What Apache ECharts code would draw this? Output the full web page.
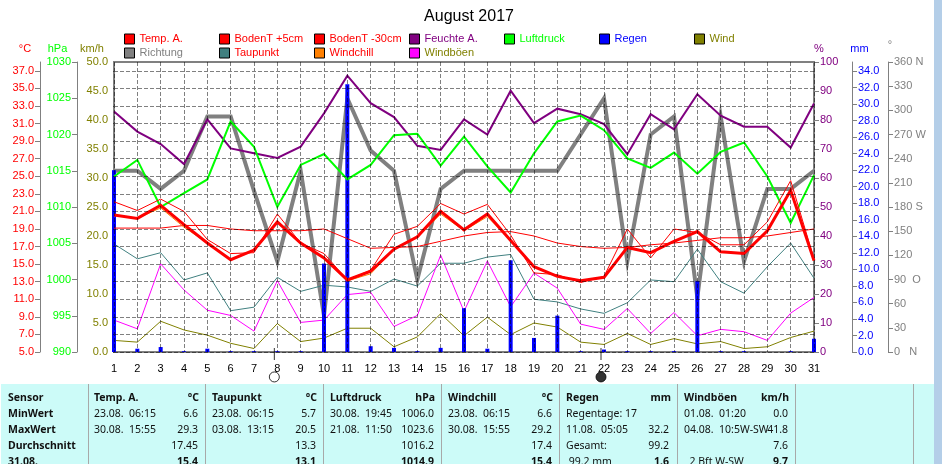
<!DOCTYPE html>
<html>
<head>
<meta charset="utf-8">
<title>August 2017</title>
<script src="https://cdn.jsdelivr.net/npm/echarts@6/dist/echarts.min.js"></script>
<style>
html, body { margin: 0; padding: 0; background: #fff; overflow: hidden; }
#gridChart, #chart { position: absolute; left: 0; top: 0; width: 942px; height: 464px; }
#chart { mix-blend-mode: multiply; }
</style>
</head>
<body>
<div id="gridChart"></div>
<div id="chart"></div>
<script>
var days = [];
for (var i = 1; i <= 31; i++) days.push(String(i));

// values, one per day
var tempA    = [20.6,20.2,21.7,19.5,17.4,15.5,16.6,19.8,17.4,15.7,13.2,14.2,16.7,18.1,21.0,18.9,20.7,17.7,14.7,13.6,13.1,13.5,16.9,16.3,17.6,18.7,16.4,16.2,18.8,23.4,15.4];
var boden5   = [22.1,21.1,22.4,21.0,17.8,16.2,16.3,20.7,17.4,16.2,13.2,14.3,18.4,19.3,21.9,20.7,21.8,18.3,14.0,13.8,12.9,13.6,19.0,15.7,19.0,18.6,17.2,17.2,19.8,24.5,15.6];
var boden30  = [19.1,19.1,19.1,19.4,19.4,19.0,18.8,18.8,18.8,19.0,17.9,16.8,16.9,17.0,17.6,18.2,18.6,18.7,18.2,17.4,17.0,16.8,16.9,17.2,17.4,17.7,18.0,18.0,18.2,18.6,19.0];
var windchill= [20.6,20.2,21.4,19.2,17.4,15.5,16.6,19.8,17.4,15.7,13.1,13.9,16.7,18.1,20.7,18.8,20.4,17.7,14.7,13.6,13.1,13.5,16.9,16.3,17.6,18.7,16.4,16.2,18.8,23.4,15.4];
var taupunkt = [17.3,15.6,16.3,13.2,14.0,9.7,10.1,13.5,11.9,12.6,12.4,11.9,13.3,12.5,15.1,15.1,15.8,16.1,11.0,10.7,9.9,9.4,10.6,13.2,13.0,16.7,13.0,11.7,14.7,17.4,13.4];
var feuchte  = [82.9,76.0,71.7,64.8,80.2,70.2,68.5,66.9,70.8,82.3,95.3,85.8,81.0,71.1,69.7,80.2,75.0,90.1,78.9,83.9,82.0,78.6,68.2,82.0,76.8,88.9,81.5,77.7,77.7,70.5,85.7];
var luftdruck= [1014.2,1016.5,1010.0,1011.9,1013.8,1021.8,1018.3,1010.0,1015.8,1017.3,1013.8,1015.8,1019.9,1020.1,1015.7,1019.7,1015.6,1012.0,1017.4,1021.8,1022.6,1020.6,1016.7,1015.4,1017.5,1014.6,1017.6,1018.9,1014.2,1007.8,1014.4];
var regen    = [22.0,0.4,0.6,0.1,0.4,0.1,0.1,0.1,0.1,10.7,32.4,0.7,0.5,0.1,0.5,5.3,0.4,11.1,1.7,4.4,0.1,0.3,0.1,0.1,0.1,8.6,0.1,0.1,0.0,0.1,1.6];
var wind     = [2.0,1.7,5.3,3.8,2.9,1.5,0.6,4.9,1.8,2.4,4.1,4.1,0.9,2.6,6.6,2.8,6.0,3.0,5.0,4.3,1.7,1.3,3.2,1.3,2.3,1.4,1.8,0.6,0.9,2.5,3.6];
var richtung = [225,225,202.5,225,292.5,292.5,200,112.5,225,45,315,250,225,90,202.5,225,225,225,225,225,270,315,112.5,270,292.5,67.5,292.5,112.5,202.5,202.5,225];
var windboen = [5.5,4.0,15.2,10.7,7.2,6.3,3.6,12.3,5.1,5.5,9.9,10.3,4.4,6.3,16.7,7.0,15.7,7.8,13.6,11.0,4.8,3.9,7.5,3.2,6.8,2.8,3.9,3.5,2.0,6.7,9.4];

var tempTicks = [5,7,9,11,13,15,17,19,21,23,25,27,29,31,33,35,37];
var regenTicks = [0,2,4,6,8,10,12,14,16,18,20,22,24,26,28,30,32,34];
var dirLabels = {0:'0   N',30:'30',60:'60',90:'90  O',120:'120',150:'150',180:'180 S',210:'210',240:'240',270:'270 W',300:'300',330:'330',360:'360 N'};
var moonDays = ['8','22'];

var RED = '#ff0000', GRAY = '#808080', OLIVE = '#808000', PURPLE = '#800080', LIME = '#00ff00', BLUE = '#0000ff', TEAL = '#408080', ORANGE = '#ff8000', MAGENTA = '#ff00ff';
var FONT = '"Liberation Sans", Arial, sans-serif';
var DASH = { color: GRAY, width: 1, type: 'dashed' };
var GRID = { left: 114, right: 128, top: 62, height: 290 };

// table below the chart
var sensorRows = ['Sensor','MinWert','MaxWert','Durchschnitt','31.08.'];
var statHeads  = ['Temp. A.','Taupunkt','Luftdruck','Windchill','Regen','Windböen'];
var statUnits  = ['°C','°C','hPa','°C','mm','km/h'];
var statNotes  = [
    ['23.08.  06:15','30.08.  15:55','',''],
    ['23.08.  06:15','03.08.  13:15','',''],
    ['30.08.  19:45','21.08.  11:50','',''],
    ['23.08.  06:15','30.08.  15:55','',''],
    ['Regentage: 17','11.08.  05:05','Gesamt:',' 99.2 mm'],
    ['01.08.  01:20','04.08.  10:5W-SW','','  2 Bft W-SW']
];
var statValues = [
    ['6.6','29.3','17.45','15.4'],
    ['5.7','20.5','13.3','13.1'],
    ['1006.0','1023.6','1016.2','1014.9'],
    ['6.6','29.2','17.4','15.4'],
    ['','32.2','99.2','1.6'],
    ['0.0','41.8','7.6','9.7']
];

function line(name, data, yIndex, color, width, z) {
    return {
        name: name, type: 'line', data: data, yAxisIndex: yIndex, z: z,
        symbol: 'none', animation: false, silent: true,
        itemStyle: { color: color },
        lineStyle: { color: color, width: width, join: 'miter' }
    };
}

function yAxis(opt) {
    return {
        type: 'value', name: opt.name, position: opt.pos, offset: opt.offset,
        min: opt.min, max: opt.max, interval: opt.interval,
        nameLocation: 'end', nameGap: 8,
        nameTextStyle: { color: opt.color, fontSize: 11, fontFamily: FONT, padding: opt.namePad, align: 'center' },
        axisLine: { show: true, onZero: false, lineStyle: { color: GRAY, width: 1 } },
        axisTick: { show: opt.tick !== false, length: 5, lineStyle: { color: GRAY }, customValues: opt.ticks },
        axisLabel: { color: opt.color, fontSize: 11, fontFamily: FONT, margin: opt.margin || 6, formatter: opt.fmt, customValues: opt.ticks, showMinLabel: true, showMaxLabel: true },
        splitLine: { show: false }
    };
}

function fixed1(v) { return v.toFixed(1); }

var legendItems = {
    'Temp. A.': [RED, RED], 'Richtung': [GRAY, GRAY],
    'BodenT +5cm': [RED, RED], 'Taupunkt': [TEAL, RED],
    'BodenT -30cm': [RED, RED], 'Windchill': [ORANGE, RED],
    'Feuchte A.': [PURPLE, PURPLE], 'Windböen': [MAGENTA, OLIVE],
    'Luftdruck': [LIME, LIME], 'Regen': [BLUE, BLUE], 'Wind': [OLIVE, OLIVE]
};
var legendColumns = [['Temp. A.','Richtung'],['BodenT +5cm','Taupunkt'],['BodenT -30cm','Windchill'],['Feuchte A.','Windböen'],['Luftdruck'],['Regen'],['Wind']];
var legends = legendColumns.map(function (names, k) {
    return {
        orient: 'vertical', left: 124 + k * 95, top: 32, padding: 0, itemGap: 0,
        itemWidth: 10, itemHeight: 10, selectedMode: false, silent: true,
        textStyle: { fontSize: 11, fontFamily: FONT, padding: [0, 0, 0, 0], height: 14, lineHeight: 14 },
        data: names.map(function (n) {
            return {
                name: n, icon: 'rect',
                itemStyle: { color: legendItems[n][0], borderColor: '#000', borderWidth: 1 },
                textStyle: { color: legendItems[n][1] }
            };
        })
    };
});

// table and window edge, as graphic elements
var tableY = 384, rowY = [398, 414, 430, 446, 462];
var dividers = [88, 205, 323, 441, 559, 677, 795, 913];
var noteX = [94, 212, 330, 448, 566, 684], valueX = [198, 316, 434, 552, 669, 788], unitX = [199, 317, 435, 553, 671, 789];
var graphics = [
    { type: 'rect', shape: { x: 934, y: 0, width: 8, height: 464 }, style: { fill: '#b4cee8' }, silent: true },
    { type: 'rect', shape: { x: 1, y: tableY, width: 933, height: 80 }, style: { fill: '#ccfbf8' }, silent: true }
];
dividers.forEach(function (x) {
    graphics.push({ type: 'rect', shape: { x: x, y: tableY, width: 1, height: 80 }, style: { fill: '#a8a8a8' }, silent: true });
});
function cell(text, x, y, bold, align) {
    if (!text) return;
    graphics.push({ type: 'text', silent: true, x: x, y: y, style: {
        text: text, fill: '#111', align: align || 'left', verticalAlign: 'middle',
        font: (bold ? 'bold ' : '') + '10.5px "Noto Sans", sans-serif'
    } });
}
sensorRows.forEach(function (t, r) { cell(t, 8, rowY[r], true); });
statHeads.forEach(function (head, c) {
    cell(head, noteX[c], rowY[0], true);
    cell(statUnits[c], unitX[c], rowY[0], true, 'right');
    for (var r = 0; r < 4; r++) {
        cell(statNotes[c][r], noteX[c], rowY[r + 1], false);
        cell(statValues[c][r], valueX[c], rowY[r + 1], r === 3, 'right');
    }
});

var series = [
    line('Richtung', richtung, 5, GRAY, 4, 3),
    line('Taupunkt', taupunkt, 0, TEAL, 1, 3),
    line('Windböen', windboen, 2, MAGENTA, 1, 3),
    line('Wind', wind, 2, OLIVE, 1, 3),
    {
        name: 'Regen', type: 'bar', data: regen, yAxisIndex: 4, barWidth: 4, z: 4,
        animation: false, silent: true, itemStyle: { color: BLUE }
    },
    line('Feuchte A.', feuchte, 3, PURPLE, 2, 5),
    line('Luftdruck', luftdruck, 1, LIME, 2, 5),
    line('BodenT -30cm', boden30, 0, RED, 1, 5),
    line('BodenT +5cm', boden5, 0, RED, 1, 5),
    line('Windchill', windchill, 0, ORANGE, 1, 5),
    line('Temp. A.', tempA, 0, RED, 3, 5),
    {
        // moon phases under the day axis, hung on the km/h scale
        type: 'scatter', yAxisIndex: 2, clip: false, silent: true, animation: false, symbol: 'circle', symbolSize: 10,
        symbolOffset: [-3, 0], z: 6,
        itemStyle: { color: '#000', borderColor: '#000', borderWidth: 1 },
        data: [
            { value: [moonDays[0], -4.3], itemStyle: { color: '#fff' } },
            { value: [moonDays[1], -4.3] }
        ]
    },
    {
        type: 'scatter', yAxisIndex: 2, clip: false, silent: true, animation: false, symbol: 'rect', symbolSize: [1, 12],
        symbolOffset: [-3, 0], z: 6,
        itemStyle: { color: '#000' },
        data: moonDays.map(function (d) { return [d, -0.35]; })
    }
];

// dashed grid sits in its own chart behind the main one, the lines got lost when drawn together
var gridChart = echarts.init(document.getElementById('gridChart'));
gridChart.setOption({
    animation: false,
    grid: GRID,
    xAxis: {
        type: 'category', data: days, boundaryGap: false,
        axisLine: { show: false }, axisTick: { show: false }, axisLabel: { show: false },
        splitLine: { show: true, interval: 0, lineStyle: DASH }
    },
    yAxis: {
        type: 'value', min: 5, max: 38,
        axisLine: { show: false }, axisLabel: { show: false },
        axisTick: { show: true, length: 1, lineStyle: { color: GRAY }, customValues: tempTicks },
        splitLine: { show: true, lineStyle: DASH }
    },
    series: [{ type: 'line', data: [], silent: true, animation: false }]
});

var option = {
    animation: false,
    title: {
        text: 'August 2017', left: 464, top: 4, textAlign: 'center',
        textStyle: { color: '#000', fontSize: 16, fontWeight: 'normal', fontFamily: FONT }
    },
    legend: legends,
    grid: { left: GRID.left, right: GRID.right, top: GRID.top, height: GRID.height, show: true, borderColor: GRAY, borderWidth: 2 },
    xAxis: {
        type: 'category', data: days, boundaryGap: false,
        axisLine: { onZero: false, lineStyle: { color: GRAY, width: 2 } },
        axisTick: { show: false },
        axisLabel: { color: '#000', fontSize: 11, fontFamily: FONT, interval: 0, margin: 11 },
        splitLine: { show: false }
    },
    yAxis: [
        yAxis({ name: '°C', pos: 'left', offset: 74, min: 5, max: 38, ticks: tempTicks, color: RED, fmt: fixed1, namePad: [0, 30, 0, 0] }),
        yAxis({ name: 'hPa', pos: 'left', offset: 37, min: 990, max: 1030, interval: 5, color: LIME, fmt: function (v) { return String(v); }, namePad: [0, 39, 0, 0] }),
        yAxis({ name: 'km/h', pos: 'left', offset: 0, min: 0, max: 50, interval: 5, color: OLIVE, fmt: fixed1, tick: false, namePad: [0, 44, 0, 0] }),
        yAxis({ name: '%', pos: 'right', offset: 0, min: 0, max: 100, interval: 10, color: PURPLE, namePad: [0, 0, 0, 10] }),
        yAxis({ name: 'mm', pos: 'right', offset: 38, min: 0, max: 35.09, ticks: regenTicks, color: BLUE, fmt: fixed1, namePad: [0, 0, 0, 15] }),
        yAxis({ name: '°', pos: 'right', offset: 74, min: 0, max: 360, interval: 30, color: GRAY, fmt: function (v) { return dirLabels[v]; }, namePad: [0, 0, 4, 4] })
    ],
    series: series,
    graphic: graphics
};

var chart = echarts.init(document.getElementById('chart'));
chart.setOption(option);
</script>
</body>
</html>
